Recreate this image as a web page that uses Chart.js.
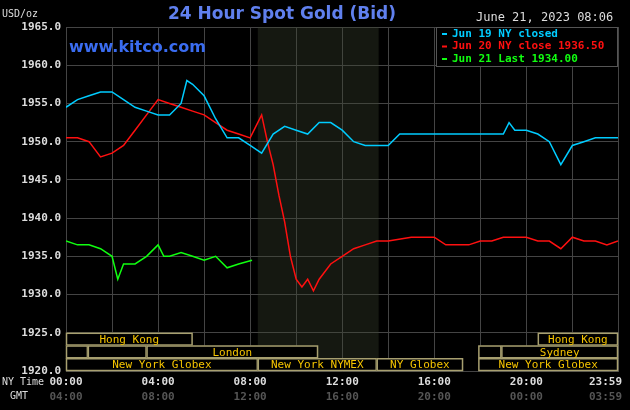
<!DOCTYPE html>
<html>
<head>
<style>
html,body{margin:0;padding:0;background:#000;}
#wrap{width:630px;height:410px;position:relative;}
</style>
<script src="https://cdn.jsdelivr.net/npm/chart.js@4"></script>
</head>
<body>
<div id="wrap"><canvas id="gold" width="630" height="410"></canvas></div>
<script>
// minutes since 00:00 NY time
var jun19Times = [0,30,60,90,120,150,180,210,240,270,300,315,330,360,390,420,450,480,510,540,570,600,630,660,690,720,750,780,810,840,870,1140,1155,1170,1200,1230,1260,1290,1320,1350,1380,1410,1439];
var jun19Values = [1954.5,1955.5,1956,1956.5,1956.5,1955.5,1954.5,1954,1953.5,1953.5,1955,1958,1957.5,1956,1953,1950.5,1950.5,1949.5,1948.5,1951,1952,1951.5,1951,1952.5,1952.5,1951.5,1950,1949.5,1949.5,1949.5,1951,1951,1952.5,1951.5,1951.5,1951,1950,1947,1949.5,1950,1950.5,1950.5,1950.5];
var jun20Times = [0,30,60,90,120,150,180,210,240,270,300,330,360,390,420,450,480,495,510,525,540,555,570,585,600,615,630,645,660,690,720,750,780,810,840,900,960,990,1020,1050,1080,1110,1140,1170,1200,1230,1260,1290,1320,1350,1380,1410,1439];
var jun20Values = [1950.5,1950.5,1950,1948,1948.5,1949.5,1951.5,1953.5,1955.5,1955,1954.5,1954,1953.5,1952.5,1951.5,1951,1950.5,1952,1953.5,1950,1947,1943,1939.5,1935,1932,1931,1932,1930.5,1932,1934,1935,1936,1936.5,1937,1937,1937.5,1937.5,1936.5,1936.5,1936.5,1937,1937,1937.5,1937.5,1937.5,1937,1937,1936,1937.5,1937,1937,1936.5,1937];
var jun21Times = [0,30,60,90,120,135,150,180,210,240,255,270,300,330,360,390,420,450,485];
var jun21Values = [1937,1936.5,1936.5,1936,1935,1932,1934,1934,1935,1936.5,1935,1935,1935.5,1935,1934.5,1935,1933.5,1934,1934.5];
var yTicks = [1920,1925,1930,1935,1940,1945,1950,1955,1960,1965];
var nyLabels = ['00:00','04:00','08:00','12:00','16:00','20:00','23:59'];
var gmtLabels = ['04:00','08:00','12:00','16:00','20:00','00:00','03:59'];
var labelTimes = [0,240,480,720,960,1200,1439];
// [start, end, row(0 top), label]
var sessions = [
  [0,330,0,'Hong Kong'],[1230,1439,0,'Hong Kong'],
  [0,57,1,''],[57,210,1,''],[210,657,1,'London'],[1075,1135,1,''],[1135,1439,1,'Sydney'],
  [0,500,2,'New York Globex'],[500,810,2,'New York NYMEX'],[810,1035,2,'NY Globex'],[1075,1439,2,'New York Globex']
];

function pts(t, v) { return t.map(function (x, i) { return {x: x, y: v[i]}; }); }

var mono = '"DejaVu Sans Mono", monospace';
var decor = {
  id: 'decor',
  beforeDatasetsDraw: function (c) {
    var ctx = c.ctx, xs = c.scales.x, a = c.chartArea;
    ctx.save();
    ctx.fillStyle = 'rgba(60,70,50,0.35)';
    ctx.fillRect(xs.getPixelForValue(500), a.top, xs.getPixelForValue(815) - xs.getPixelForValue(500), a.bottom - a.top);
    ctx.restore();
  },
  afterDatasetsDraw: function (c) {
    var ctx = c.ctx, xs = c.scales.x, ys = c.scales.y, a = c.chartArea;
    ctx.save();
    var base = ys.getPixelForValue(1925);
    ctx.font = '11px ' + mono;
    ctx.textBaseline = 'middle';
    sessions.forEach(function (s) {
      var x0 = xs.getPixelForValue(s[0]), x1 = xs.getPixelForValue(s[1]);
      var y0 = base + s[2] * (a.bottom - base) / 3, h = (a.bottom - base) / 3;
      ctx.fillStyle = '#000';
      ctx.fillRect(x0, y0, x1 - x0, h);
      ctx.strokeStyle = '#a8a070';
      ctx.lineWidth = 1.5;
      ctx.strokeRect(x0 + 0.5, y0 + 0.5, x1 - x0 - 1, h - 1);
      if (s[3]) {
        ctx.fillStyle = '#f5c400';
        ctx.textAlign = 'center';
        ctx.fillText(s[3], (x0 + x1) / 2, y0 + h / 2 + 1);
      }
    });
    // legend box
    ctx.fillStyle = '#000';
    ctx.fillRect(436, a.top, a.right - 436, 39);
    ctx.strokeStyle = '#555';
    ctx.lineWidth = 1;
    ctx.strokeRect(436.5, a.top + 0.5, a.right - 437, 39);
    var leg = [['#00ccff','Jun 19 NY closed'],['#ff1010','Jun 20 NY close 1936.50'],['#10ff10','Jun 21 Last 1934.00']];
    ctx.font = 'bold 11px ' + mono;
    ctx.textAlign = 'left';
    leg.forEach(function (l, i) {
      var y = a.top + 7 + i * 12.5;
      ctx.fillStyle = l[0];
      ctx.fillRect(442, y - 1, 5, 2);
      ctx.fillText(l[1], 452, y);
    });
    // axis labels
    ctx.font = 'bold 11px ' + mono;
    ctx.fillStyle = '#ddd';
    ctx.textAlign = 'right';
    yTicks.forEach(function (v) { ctx.fillText(v.toFixed(1), 61, ys.getPixelForValue(v)); });
    labelTimes.forEach(function (t, i) {
      var x = xs.getPixelForValue(t);
      var last = i === labelTimes.length - 1;
      ctx.textAlign = last ? 'right' : 'center';
      if (last) x = 622;
      ctx.fillStyle = '#ddd';
      ctx.fillText(nyLabels[i], x, 382);
      ctx.fillStyle = '#555';
      ctx.fillText(gmtLabels[i], x, 397);
    });
    ctx.font = '10px ' + mono;
    ctx.textAlign = 'left';
    ctx.fillStyle = '#ddd';
    ctx.fillText('NY Time', 2, 382);
    ctx.fillText('GMT', 10, 396);
    ctx.fillText('USD/oz', 2, 14);
    ctx.font = '12px ' + mono;
    ctx.fillText('June 21, 2023 08:06', 476, 18);
    ctx.font = 'bold 17px "DejaVu Sans", sans-serif';
    ctx.fillStyle = '#6080ee';
    ctx.textAlign = 'center';
    ctx.fillText('24 Hour Spot Gold (Bid)', 282, 15);
    ctx.font = 'bold 16px "DejaVu Sans", sans-serif';
    ctx.textAlign = 'left';
    ctx.fillStyle = '#3a6cf0';
    ctx.fillText('www.kitco.com', 69, 48);
    ctx.restore();
  }
};

var line = function (data, color) {
  return {data: data, borderColor: color, borderWidth: 1.5, pointRadius: 0, tension: 0, fill: false};
};

new Chart(document.getElementById('gold'), {
  type: 'line',
  data: {
    datasets: [
      line(pts(jun19Times, jun19Values), '#00ccff'),
      line(pts(jun20Times, jun20Values), '#ff1010'),
      line(pts(jun21Times, jun21Values), '#10ff10')
    ]
  },
  options: {
    responsive: false,
    animation: false,
    events: [],
    layout: {padding: {left: 66, right: 12, top: 27, bottom: 39}},
    plugins: {legend: {display: false}, tooltip: {enabled: false}},
    scales: {
      x: {
        type: 'linear', min: 0, max: 1439,
        afterBuildTicks: function (s) { s.ticks = [0,120,240,360,480,600,720,840,960,1080,1200,1320,1439].map(function (v) { return {value: v}; }); },
        ticks: {display: false},
        grid: {color: '#444', drawTicks: false},
        border: {display: true, color: '#444'}
      },
      y: {
        min: 1920, max: 1965,
        afterBuildTicks: function (s) { s.ticks = yTicks.map(function (v) { return {value: v}; }); },
        ticks: {display: false},
        grid: {color: '#444', drawTicks: false},
        border: {display: true, color: '#444'}
      }
    }
  },
  plugins: [decor]
});
</script>
</body>
</html>
